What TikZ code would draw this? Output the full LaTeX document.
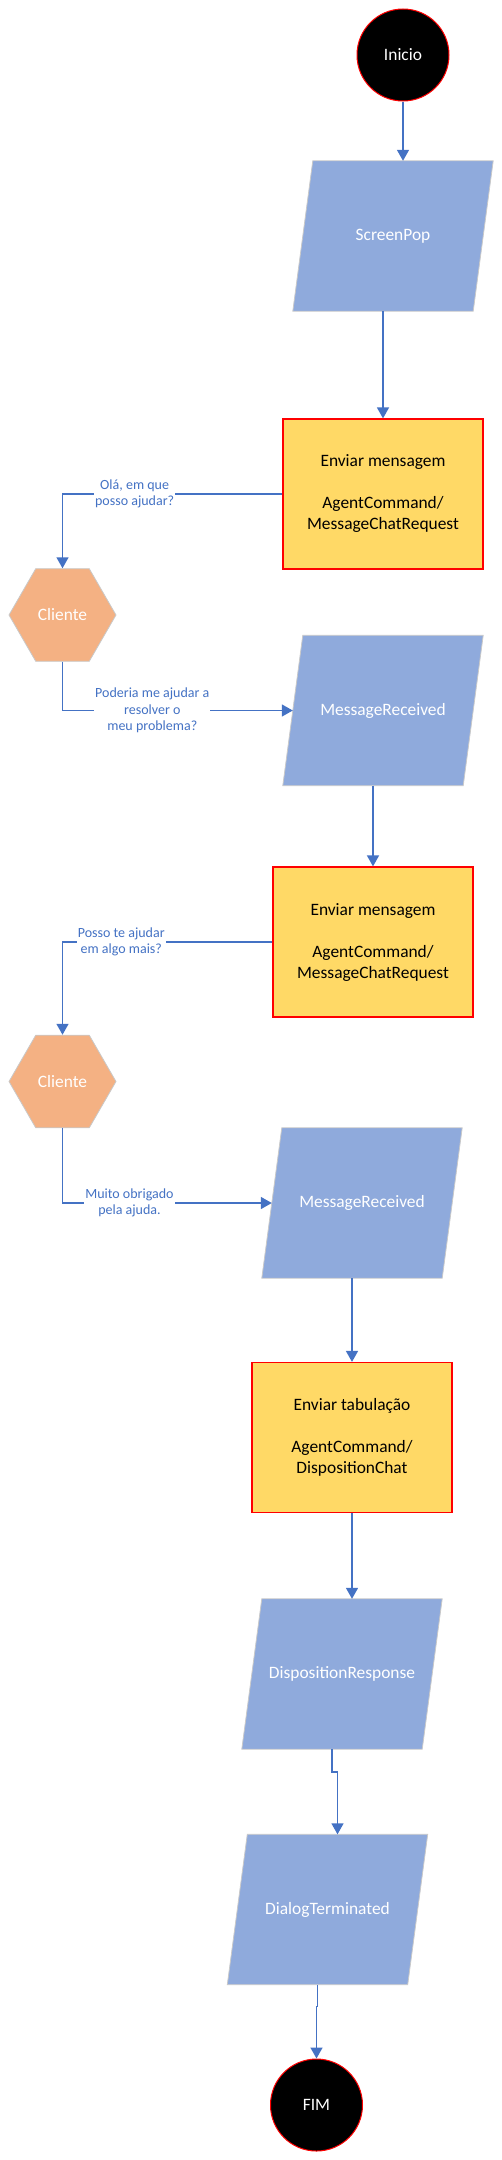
\documentclass[tikz,border=0pt]{standalone}
\usepackage{fontspec}
\setmainfont{Carlito}
\usetikzlibrary{arrows.meta,shapes.geometric,backgrounds,calc}
\definecolor{paraBlue}{HTML}{8FAADC}
\definecolor{boxYellow}{HTML}{FFD966}
\definecolor{hexOrange}{HTML}{F4B183}
\definecolor{lineBlue}{HTML}{4472C4}
\definecolor{edgeGray}{HTML}{C9C9C9}
\begin{document}
\begin{tikzpicture}[x=1pt,y=1pt,
  base/.style={font=\fontsize{17.4pt}{21pt}\selectfont, align=center, inner sep=0pt},
  term/.style={base, circle, fill=black, draw=red, line width=1pt, minimum size=92pt, text=white},
  para/.style={base, minimum width=180pt, minimum height=150pt, text=white},
  procbox/.style={base, rectangle, fill=boxYellow, draw=red, line width=1.2pt, minimum width=200pt, minimum height=150pt},
  hexa/.style={base, regular polygon, regular polygon sides=6, shape border rotate=0, minimum size=107pt, fill=hexOrange, draw=edgeGray, line width=0.8pt, text=white},
  conn/.style={draw=lineBlue, line width=1.5pt, -{Triangle[width=12pt,length=11pt]}},
  lbl/.style={font=\fontsize{14pt}{16.5pt}\selectfont, text=lineBlue, fill=white, align=center, inner sep=1pt},
  paraedge/.style={fill=paraBlue, draw=edgeGray, line width=0.8pt}]

\useasboundingbox (0,0) rectangle (502,-2160);

\node[term] (ini) at (403,-55) {Inicio};
\node[para] (sp) at (393,-236) {ScreenPop};
\node[procbox] (b1) at (383,-494) {Enviar mensagem\\[21pt]AgentCommand/\\MessageChatRequest};
\node[hexa] (h1) at (62.5,-615) {Cliente};
\node[para] (mr1) at (383,-710.5) {MessageReceived};
\node[procbox] (b2) at (373,-942) {Enviar mensagem\\[21pt]AgentCommand/\\MessageChatRequest};
\node[hexa] (h2) at (62.5,-1081.5) {Cliente};
\node[para] (mr2) at (362,-1203) {MessageReceived};
\node[procbox] (b3) at (352,-1437.5) {Enviar tabulação\\[21pt]AgentCommand/\\DispositionChat};
\node[para] (dr) at (342,-1674) {DispositionResponse};
\node[para] (dt) at (327.5,-1909.5) {DialogTerminated};
\node[term] (fim) at (316.5,-2105) {FIM};

\begin{scope}[on background layer]
  \foreach \n in {sp,mr1,mr2,dr,dt} {
    \path[paraedge] ([xshift=-10pt]\n.south west) -- ([xshift=-10pt]\n.south east)
      -- ([xshift=10pt]\n.north east) -- ([xshift=10pt]\n.north west) -- cycle;
  }
\end{scope}

\draw[conn] (ini) -- ([xshift=10pt]sp.north);
\draw[conn] ([xshift=-10pt]sp.south) -- (b1.north);
\draw[conn] (b1.west) -| node[lbl,pos=0.336]{Olá, em que\\posso ajudar?} (h1.north);
\draw[conn] (h1.south) |- node[lbl,pos=0.695]{Poderia me ajudar a\\resolver o\\meu problema?} (mr1.west);
\draw[conn] ([xshift=-10pt]mr1.south) -- (b2.north);
\draw[conn] (b2.west) -| node[lbl,pos=0.36]{Posso te ajudar\\em algo mais?} (h2.north);
\draw[conn] (h2.south) |- node[lbl,pos=0.66]{Muito obrigado\\pela ajuda.} (mr2.west);
\draw[conn] ([xshift=-10pt]mr2.south) -- (b3.north);
\draw[conn] (b3.south) -- ([xshift=10pt]dr.north);
\draw[conn] ([xshift=-10pt]dr.south) -- ++(0,-23pt) -| ([xshift=10pt]dt.north);
\draw[conn] ([xshift=-10pt]dt.south) -- ++(0,-22pt) -| (fim.north);
\end{tikzpicture}
\end{document}
